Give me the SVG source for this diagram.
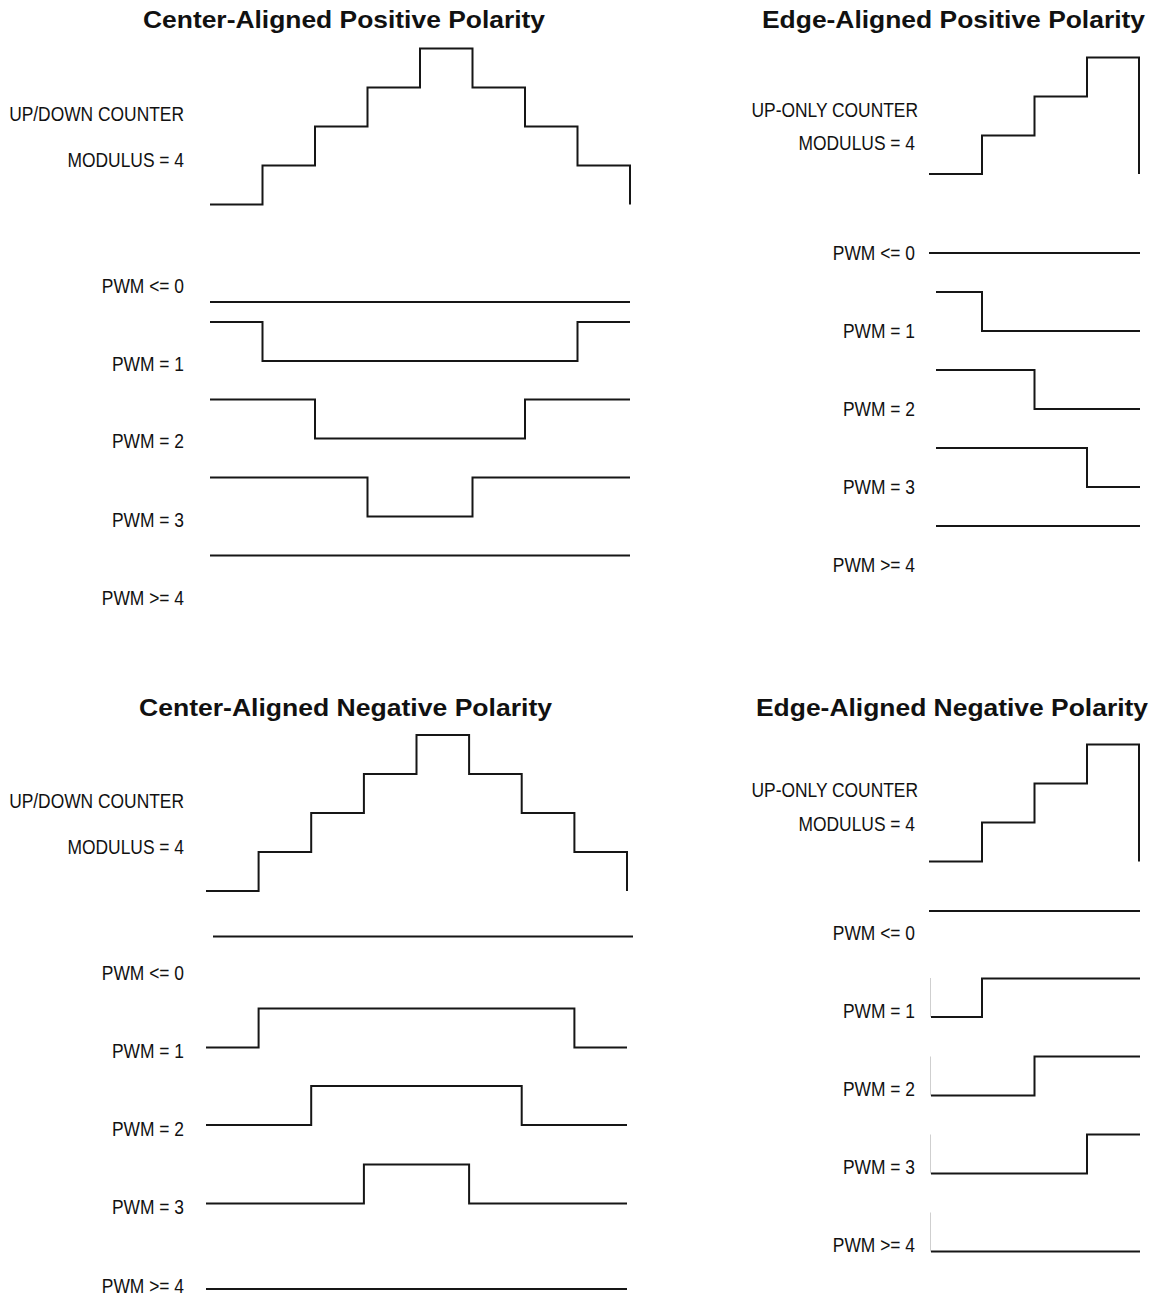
<svg xmlns="http://www.w3.org/2000/svg" width="1156" height="1297" viewBox="0 0 1156 1297">
<style>
.title{font-family:"Liberation Sans",Arial,sans-serif;font-weight:bold;font-size:24px;fill:#111;}
.lbl{font-family:"Liberation Sans",Arial,sans-serif;font-size:20px;fill:#111;text-anchor:end;}
.w{fill:none;stroke:#161616;stroke-width:2;stroke-linejoin:miter;stroke-linecap:butt;}
.g{fill:none;stroke:#cfcfcf;stroke-width:1;}
</style>
<rect width="1156" height="1297" fill="#fff"/>

<g id="center-positive">
<text class="title" x="143" y="28" textLength="402" lengthAdjust="spacingAndGlyphs">Center-Aligned Positive Polarity</text>
<text class="lbl" transform="translate(184,121) scale(0.87,1)">UP/DOWN COUNTER</text>
<text class="lbl" transform="translate(184,167) scale(0.87,1)">MODULUS = 4</text>
<text class="lbl" transform="translate(184,293) scale(0.87,1)">PWM &lt;= 0</text>
<text class="lbl" transform="translate(184,371) scale(0.87,1)">PWM = 1</text>
<text class="lbl" transform="translate(184,448) scale(0.87,1)">PWM = 2</text>
<text class="lbl" transform="translate(184,527) scale(0.87,1)">PWM = 3</text>
<text class="lbl" transform="translate(184,605) scale(0.87,1)">PWM &gt;= 4</text>
</g>

<g id="edge-positive">
<text class="title" x="762" y="28" textLength="383" lengthAdjust="spacingAndGlyphs">Edge-Aligned Positive Polarity</text>
<text class="lbl" transform="translate(918,117) scale(0.87,1)">UP-ONLY COUNTER</text>
<text class="lbl" transform="translate(915,150) scale(0.87,1)">MODULUS = 4</text>
<text class="lbl" transform="translate(915,260) scale(0.87,1)">PWM &lt;= 0</text>
<text class="lbl" transform="translate(915,338) scale(0.87,1)">PWM = 1</text>
<text class="lbl" transform="translate(915,416) scale(0.87,1)">PWM = 2</text>
<text class="lbl" transform="translate(915,494) scale(0.87,1)">PWM = 3</text>
<text class="lbl" transform="translate(915,572) scale(0.87,1)">PWM &gt;= 4</text>
</g>

<g id="center-negative">
<text class="title" x="139" y="716" textLength="413" lengthAdjust="spacingAndGlyphs">Center-Aligned Negative Polarity</text>
<text class="lbl" transform="translate(184,808) scale(0.87,1)">UP/DOWN COUNTER</text>
<text class="lbl" transform="translate(184,854) scale(0.87,1)">MODULUS = 4</text>
<text class="lbl" transform="translate(184,980) scale(0.87,1)">PWM &lt;= 0</text>
<text class="lbl" transform="translate(184,1058) scale(0.87,1)">PWM = 1</text>
<text class="lbl" transform="translate(184,1136) scale(0.87,1)">PWM = 2</text>
<text class="lbl" transform="translate(184,1214) scale(0.87,1)">PWM = 3</text>
<text class="lbl" transform="translate(184,1293) scale(0.87,1)">PWM &gt;= 4</text>
</g>

<g id="edge-negative">
<text class="title" x="756" y="716" textLength="392" lengthAdjust="spacingAndGlyphs">Edge-Aligned Negative Polarity</text>
<text class="lbl" transform="translate(918,797) scale(0.87,1)">UP-ONLY COUNTER</text>
<text class="lbl" transform="translate(915,831) scale(0.87,1)">MODULUS = 4</text>
<text class="lbl" transform="translate(915,940) scale(0.87,1)">PWM &lt;= 0</text>
<text class="lbl" transform="translate(915,1018) scale(0.87,1)">PWM = 1</text>
<text class="lbl" transform="translate(915,1096) scale(0.87,1)">PWM = 2</text>
<text class="lbl" transform="translate(915,1174) scale(0.87,1)">PWM = 3</text>
<text class="lbl" transform="translate(915,1252) scale(0.87,1)">PWM &gt;= 4</text>
</g>

<g id="waveforms">
<path class="w" d="M210,204.5 H262.5 V165.5 H315 V126.5 H367.5 V87.5 H420 V48.5 H472.5 V87.5 H525 V126.5 H577.5 V165.5 H630 V204.5"/>
<path class="w" d="M210,302 H630"/>
<path class="w" d="M210,322 H262.5 V361 H577.5 V322 H630"/>
<path class="w" d="M210,399.5 H315 V438.5 H525 V399.5 H630"/>
<path class="w" d="M210,477.5 H367.5 V516.5 H472.5 V477.5 H630"/>
<path class="w" d="M210,555.5 H630"/>

<path class="w" d="M929,174 H982 V135.5 H1034.5 V96.5 H1087 V57.5 H1139 V174"/>
<path class="w" d="M929,253 H1140"/>
<path class="w" d="M936,292 H982 V331 H1140"/>
<path class="w" d="M936,370 H1034.5 V409 H1140"/>
<path class="w" d="M936,448 H1087 V487 H1140"/>
<path class="w" d="M936,526 H1140"/>

<path class="w" d="M206,891 H258.6 V852 H311.2 V813 H363.9 V774 H416.5 V735 H469.1 V774 H521.7 V813 H574.4 V852 H627 V891"/>
<path class="w" d="M213,936.5 H633"/>
<path class="w" d="M206,1047.5 H258.6 V1008.5 H574.4 V1047.5 H627"/>
<path class="w" d="M206,1125 H311.2 V1086 H521.7 V1125 H627"/>
<path class="w" d="M206,1203.5 H363.9 V1164.5 H469.1 V1203.5 H627"/>
<path class="w" d="M206,1289 H627"/>

<path class="w" d="M929,861.5 H982 V822.5 H1034.5 V783.5 H1087 V744.5 H1139 V861.5"/>
<path class="w" d="M929,911 H1140"/>
<path class="g" d="M930.5,978 V1017 M930.5,1056.5 V1095.5 M930.5,1134.5 V1173.5 M930.5,1212.5 V1251.5"/>
<path class="w" d="M931,1017 H982 V978.5 H1140"/>
<path class="w" d="M931,1095.5 H1034.5 V1056.5 H1140"/>
<path class="w" d="M931,1173.5 H1087 V1134.5 H1140"/>
<path class="w" d="M931,1251.5 H1140"/>
</g>
</svg>
